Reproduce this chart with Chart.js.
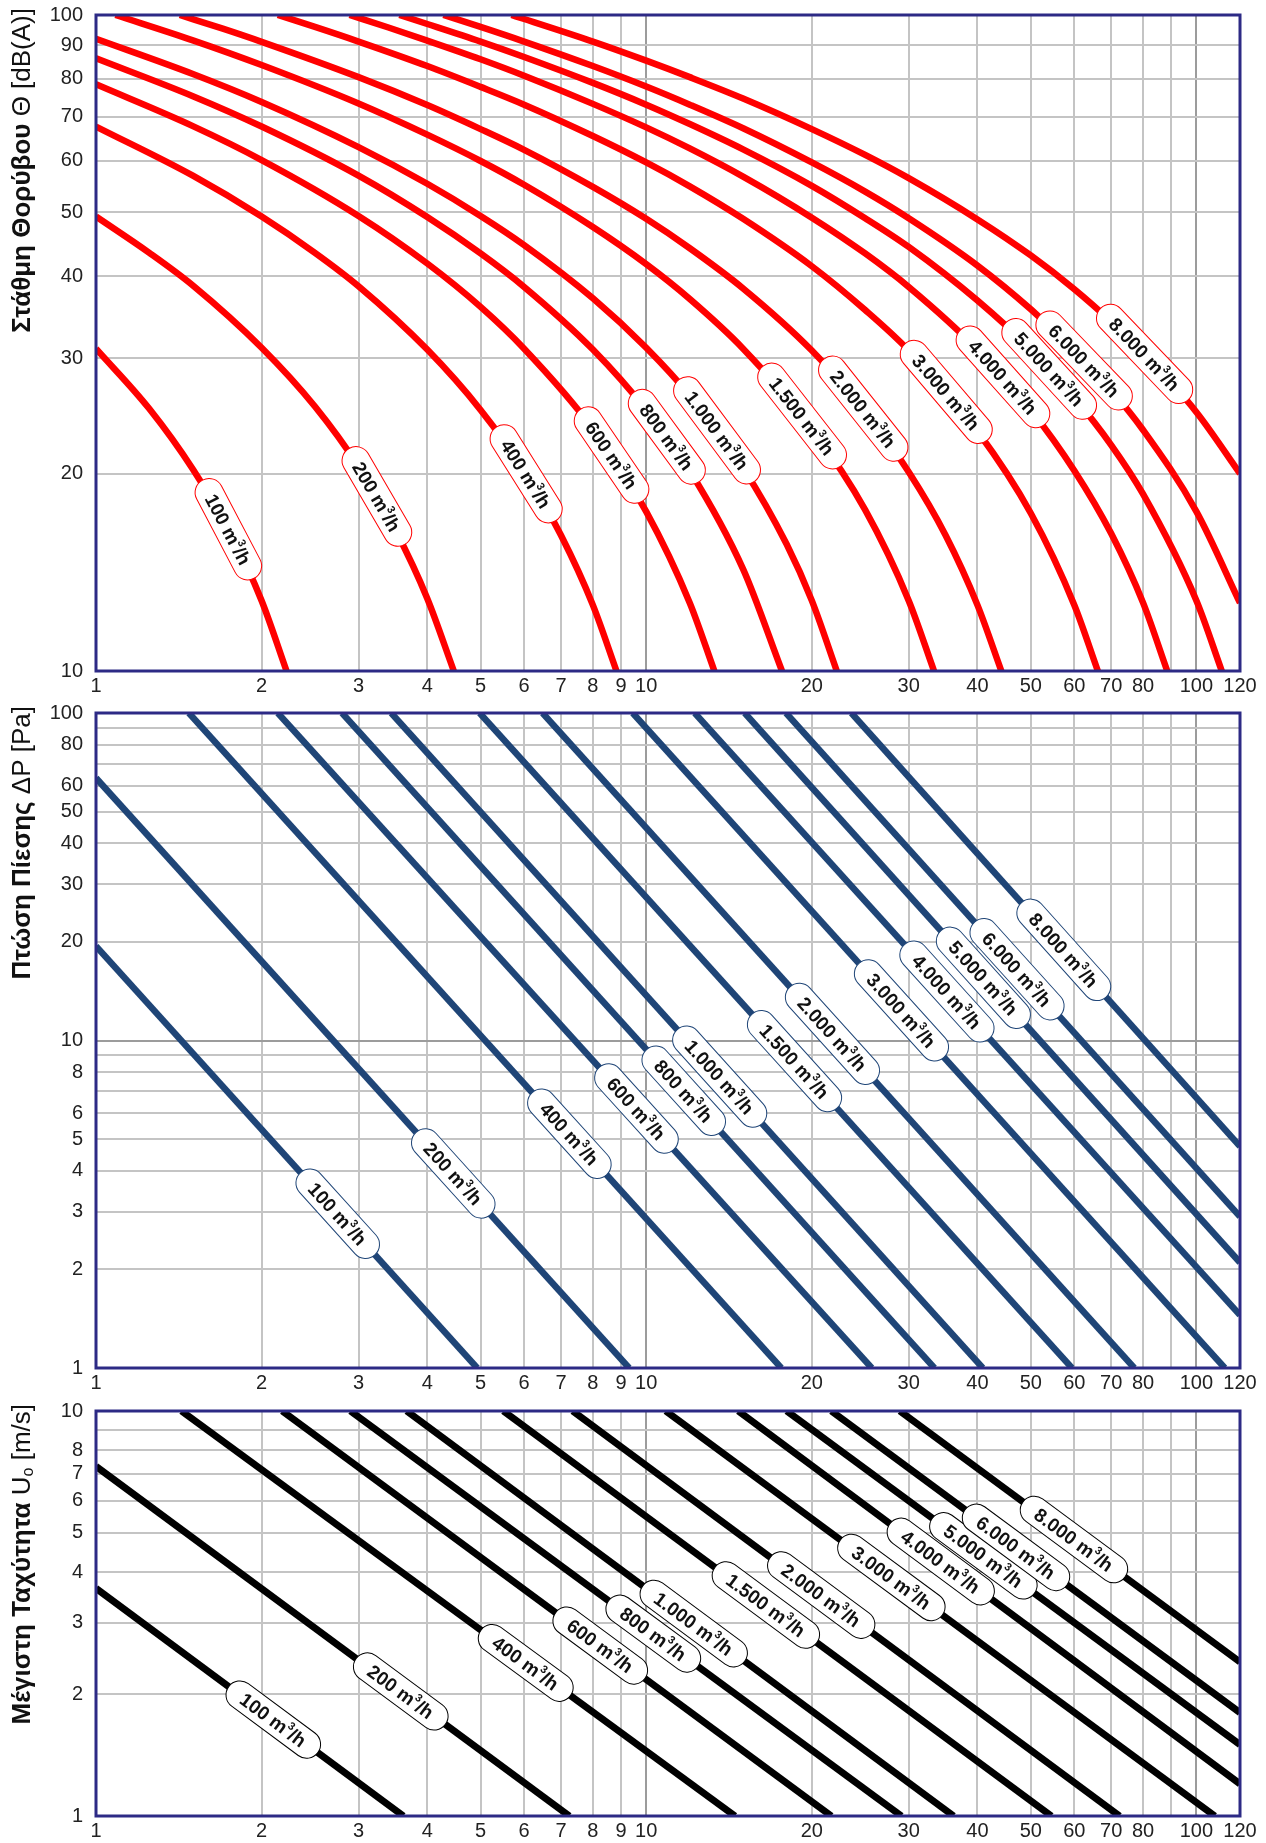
<!DOCTYPE html>
<html>
<head>
<meta charset="utf-8">
<script src="https://cdn.jsdelivr.net/npm/chart.js@4.4.1/dist/chart.umd.min.js"></script>
<style>
  html, body { margin: 0; padding: 0; background: #fff; }
  #page { position: relative; width: 1266px; height: 1843px; }
  .box { position: absolute; left: 0; width: 1266px; }
</style>
</head>
<body>
<div id="page">
  <div class="box" style="top:0;height:698px"><canvas id="noise"></canvas></div>
  <div class="box" style="top:698px;height:698px"><canvas id="pressure"></canvas></div>
  <div class="box" style="top:1396px;height:447px"><canvas id="velocity"></canvas></div>
</div>
<script>
// air flows, m3/h
const flows = ['100', '200', '400', '600', '800', '1.000', '1.500', '2.000', '3.000', '4.000', '5.000', '6.000', '8.000']

// x axis (same for the three charts)
const xTicks = [1, 2, 3, 4, 5, 6, 7, 8, 9, 10, 20, 30, 40, 50, 60, 70, 80, 90, 100, 120]
const xLabels = [1, 2, 3, 4, 5, 6, 7, 8, 9, 10, 20, 30, 40, 50, 60, 70, 80, 100, 120]

const noiseTicks = [10, 20, 30, 40, 50, 60, 70, 80, 90, 100]
const noiseLabels = [10, 20, 30, 40, 50, 60, 70, 80, 90, 100]
const pressureTicks = [1, 2, 3, 4, 5, 6, 7, 8, 9, 10, 20, 30, 40, 50, 60, 70, 80, 90, 100]
const pressureLabels = [1, 2, 3, 4, 5, 6, 8, 10, 20, 30, 40, 50, 60, 80, 100]
const velocityTicks = [1, 2, 3, 4, 5, 6, 7, 8, 9, 10]
const velocityLabels = [1, 2, 3, 4, 5, 6, 7, 8, 10]

// noise level dB(A), [x, dB]
const noise100 = [[1, 31], [1.25, 25.1], [1.5, 20.3], [1.75, 16.3], [2, 12.8], [2.22, 10]]
const noise200 = [[1, 49.3], [1.25, 43.4], [1.5, 38.7], [2, 31.1], [2.5, 25.3], [3, 20.5], [3.5, 16.4], [4, 12.9], [4.47, 10]]
const noise400 = [[1, 67.6], [1.5, 56.9], [2, 49.3], [2.5, 43.4], [3, 38.6], [4, 30.9], [5, 25], [6, 20.2], [7, 16.1], [8, 12.6], [8.83, 10]]
const noise600 = [[1, 78.4], [1.5, 67.7], [2, 60.1], [3, 49.4], [4, 41.8], [5, 35.9], [6, 31], [8, 23.4], [10, 17.5], [12, 12.7], [13.3, 10]]
const noise800 = [[1, 85.9], [1.5, 75.2], [2, 67.6], [3, 56.9], [4, 49.2], [5, 43.3], [6, 38.5], [8, 30.9], [10, 25], [12, 20.2], [15, 14.3], [17.65, 10]]
const noise1000 = [[1, 92], [1.5, 81.3], [2, 73.7], [3, 62.9], [4, 55.3], [5, 49.4], [6, 44.6], [8, 37], [10, 31.1], [12, 26.3], [15, 20.4], [18, 15.6], [20, 12.8], [22.2, 10]]
const noise1500 = [[1.085, 100], [1.5, 91.5], [2, 83.9], [3, 73.3], [4, 65.7], [5, 59.9], [6, 55.1], [8, 47.5], [10, 41.7], [12, 36.9], [15, 31], [20, 23.4], [25, 17.6], [30, 12.8], [33.35, 10]]
const noise2000 = [[1.42, 100], [1.7, 95.3], [2, 91], [3, 80.4], [4, 72.9], [5, 67], [6, 62.3], [8, 54.7], [10, 48.9], [12, 44.1], [15, 38.3], [20, 30.8], [25, 24.9], [30, 20.1], [35, 16.1], [40, 12.6], [44.2, 10]]
const noise3000 = [[2.14, 100], [2.5, 95.9], [3, 91.1], [4, 83.6], [5, 77.7], [6, 73], [8, 65.4], [10, 59.6], [12, 54.8], [15, 48.9], [20, 41.4], [25, 35.5], [30, 30.8], [40, 23.2], [50, 17.4], [60, 12.6], [66.2, 10]]
const noise4000 = [[2.89, 100], [3.4, 95.7], [4, 91.4], [5, 85.6], [6, 80.8], [8, 73.2], [10, 67.4], [12, 62.6], [15, 56.7], [20, 49.1], [25, 43.3], [30, 38.5], [40, 30.9], [50, 25], [60, 20.2], [70, 16.2], [80, 12.7], [88.5, 10]]
const noise5000 = [[3.56, 100], [4, 96.9], [5, 91.1], [6, 86.3], [8, 78.8], [10, 73], [12, 68.2], [15, 62.4], [20, 54.9], [25, 49], [30, 44.3], [40, 36.7], [50, 30.9], [60, 26.1], [70, 22.1], [80, 18.6], [100, 12.8], [111.2, 10]]
const noise6000 = [[4.28, 100], [5, 95.9], [6, 91.1], [8, 83.6], [10, 77.8], [12, 73], [15, 67.2], [20, 59.6], [25, 53.8], [30, 49], [40, 41.5], [50, 35.6], [60, 30.8], [70, 26.8], [80, 23.3], [100, 17.5], [120, 12.7]]
const noise8000 = [[5.69, 100], [6, 98.6], [8, 91.1], [10, 85.2], [12, 80.4], [15, 74.6], [20, 67], [25, 61.2], [30, 56.4], [40, 48.8], [50, 43], [60, 38.2], [70, 34.1], [80, 30.6], [100, 24.8], [120, 20]]
const noiseCurves = [noise100, noise200, noise400, noise600, noise800, noise1000, noise1500,
  noise2000, noise3000, noise4000, noise5000, noise6000, noise8000]

// pressure drop Pa: straight lines, where they enter and leave the frame
const pressureFrom = [[1, 19.4], [1, 63.3], [1.475, 100], [2.14, 100], [2.8, 100], [3.44, 100], [4.98, 100],
  [6.48, 100], [9.45, 100], [12.25, 100], [15.1, 100], [17.95, 100], [23.6, 100]]
const pressureTo = [[4.93, 1], [9.31, 1], [17.6, 1], [25.7, 1], [33.4, 1], [40.9, 1], [59.4, 1],
  [77.1, 1], [112.6, 1], [120, 1.45], [120, 2.1], [120, 2.9], [120, 4.75]]

// max velocity m/s
const velocityFrom = [[1, 3.65], [1, 7.3], [1.43, 10], [2.18, 10], [2.9, 10], [3.67, 10], [5.5, 10],
  [7.35, 10], [10.85, 10], [14.7, 10], [18, 10], [21.7, 10], [28.9, 10]]
const velocityTo = [[3.62, 1], [7.25, 1], [14.5, 1], [21.7, 1], [29.1, 1], [36.2, 1], [54.5, 1],
  [72.5, 1], [108, 1], [120, 1.2], [120, 1.5], [120, 1.8], [120, 2.4]]

// where along x each flow tag sits
const noiseTagX = [1.74, 3.24, 6.05, 8.65, 10.9, 13.45, 19.2, 24.8, 35.1, 44.5, 54, 62.5, 80.5]
const pressureTagX = [2.75, 4.46, 7.25, 9.6, 11.7, 13.6, 18.6, 21.8, 29.1, 35.2, 41, 47.2, 57.4]
const velocityTagX = [2.1, 3.58, 6.04, 8.25, 10.3, 12.2, 16.5, 20.8, 27.9, 34.3, 41, 47, 59.9]

const FONT = '"Liberation Sans", Arial, sans-serif'
Chart.defaults.font.family = FONT

const bez = (p0, p1, p2, p3, t) => {
  const u = 1 - t
  return u * u * u * p0 + 3 * u * u * t * p1 + 3 * u * t * t * p2 + t * t * t * p3
}
const dbez = (p0, p1, p2, p3, t) => {
  const u = 1 - t
  return 3 * u * u * (p1 - p0) + 6 * u * t * (p2 - p1) + 3 * t * t * (p3 - p2)
}

const drawTag = (ctx, x, y, angle, flow, edge) => {
  const big = 'bold 19px ' + FONT
  const small = 'bold 11px ' + FONT
  ctx.save()
  ctx.translate(x, y)
  ctx.rotate(angle)
  ctx.font = big
  const head = flow + ' m'
  const w1 = ctx.measureText(head).width
  const w3 = ctx.measureText('/h').width
  ctx.font = small
  const w2 = ctx.measureText('3').width
  const tw = w1 + w2 + w3
  const len = tw + 34
  const r = 14
  ctx.beginPath()
  ctx.moveTo(-len / 2 + r, -r)
  ctx.lineTo(len / 2 - r, -r)
  ctx.arc(len / 2 - r, 0, r, -Math.PI / 2, Math.PI / 2)
  ctx.lineTo(-len / 2 + r, r)
  ctx.arc(-len / 2 + r, 0, r, Math.PI / 2, Math.PI * 1.5)
  ctx.closePath()
  ctx.fillStyle = '#fff'
  ctx.fill()
  ctx.lineWidth = 1
  ctx.strokeStyle = edge
  ctx.stroke()
  ctx.fillStyle = '#111'
  ctx.textAlign = 'left'
  ctx.textBaseline = 'alphabetic'
  let cx = -tw / 2
  ctx.font = big
  ctx.fillText(head, cx, 7)
  cx += w1
  ctx.font = small
  ctx.fillText('3', cx, -2)
  cx += w2
  ctx.font = big
  ctx.fillText('/h', cx, 7)
  ctx.restore()
}

const tags = {
  id: 'tags',
  afterDatasetsDraw(chart, args, o) {
    const ctx = chart.ctx
    const xs = chart.scales.x
    chart.data.datasets.forEach((ds, i) => {
      const pts = chart.getDatasetMeta(i).data
      const px = xs.getPixelForValue(o.at[i])
      let k = pts.findIndex(p => p.x >= px)
      if (k < 1) k = 1
      const a = pts[k - 1]
      const b = pts[k]
      const c1x = a.cp2x !== undefined ? a.cp2x : a.x + (b.x - a.x) / 3
      const c1y = a.cp2y !== undefined ? a.cp2y : a.y + (b.y - a.y) / 3
      const c2x = b.cp1x !== undefined ? b.cp1x : a.x + 2 * (b.x - a.x) / 3
      const c2y = b.cp1y !== undefined ? b.cp1y : a.y + 2 * (b.y - a.y) / 3
      let lo = 0
      let hi = 1
      for (let n = 0; n < 40; n++) {
        const t = (lo + hi) / 2
        if (bez(a.x, c1x, c2x, b.x, t) < px) lo = t
        else hi = t
      }
      const t = (lo + hi) / 2
      const py = bez(a.y, c1y, c2y, b.y, t)
      const ang = Math.atan2(dbez(a.y, c1y, c2y, b.y, t), dbez(a.x, c1x, c2x, b.x, t))
      drawTag(ctx, px, py, ang, flows[i], o.edge)
    })
  }
}

const yTitle = {
  id: 'yTitle',
  afterDraw(chart, args, o) {
    const { ctx, chartArea } = chart
    const fontOf = p => (p.bold ? 'bold ' : '') + (p.sub ? 16 : 26) + 'px ' + FONT
    ctx.save()
    let total = 0
    const parts = o.parts.map(p => {
      ctx.font = fontOf(p)
      const w = ctx.measureText(p.text).width
      total += w
      return { ...p, w }
    })
    ctx.translate(30, chartArea.top - 7 + total)
    ctx.rotate(-Math.PI / 2)
    ctx.fillStyle = '#111'
    ctx.textBaseline = 'alphabetic'
    let x = 0
    parts.forEach(p => {
      ctx.font = fontOf(p)
      ctx.fillText(p.text, x, p.sub ? 3 : 0)
      x += p.w
    })
    ctx.restore()
  }
}

const frame = {
  id: 'frame',
  afterDraw(chart) {
    const { ctx, chartArea: a } = chart
    ctx.save()
    ctx.strokeStyle = '#2d2a85'
    ctx.lineWidth = 3
    ctx.strokeRect(a.left, a.top, a.right - a.left, a.bottom - a.top)
    ctx.restore()
  }
}

const isDecade = v => v && Math.abs(Math.log10(v) - Math.round(Math.log10(v))) < 1e-9

const axis = (min, max, values, labels, fit, pad) => ({
  type: 'logarithmic',
  min,
  max,
  afterBuildTicks: s => { s.ticks = values.map(v => ({ value: v })) },
  afterFit: fit,
  ticks: {
    autoSkip: false,
    maxRotation: 0,
    minRotation: 0,
    padding: pad,
    color: '#222',
    font: { size: 20 },
    callback: v => (labels.includes(v) ? String(v) : '')
  },
  grid: {
    drawTicks: false,
    lineWidth: 2,
    color: c => (c.tick && isDecade(c.tick.value) ? '#9c9c9c' : '#c4c4c4')
  },
  border: { display: false }
})

// y axis keeps a fixed width and no extra padding so the frames line up
const fitY = s => {
  s.width = 96
  s.paddingTop = 0
  s.paddingBottom = 0
}

const makeChart = (id, datasets, yAxis, xHeight, tagX, edge, title) =>
  new Chart(document.getElementById(id), {
    type: 'scatter',
    data: { datasets },
    options: {
      responsive: true,
      maintainAspectRatio: false,
      animation: false,
      layout: { padding: { top: 15, right: 26, bottom: 0, left: 0 } },
      plugins: {
        legend: { display: false },
        tooltip: { enabled: false },
        tags: { at: tagX, edge },
        yTitle: { parts: title }
      },
      scales: {
        x: axis(1, 120, xTicks, xLabels, s => { s.height = xHeight }, 3),
        y: yAxis
      }
    },
    plugins: [tags, yTitle, frame]
  })

const lineSet = (points, color, width, curved) => ({
  data: points.map(([x, y]) => ({ x, y })),
  borderColor: color,
  borderWidth: width,
  pointRadius: 0,
  showLine: true,
  clip: 0,
  cubicInterpolationMode: curved ? 'monotone' : 'default'
})

makeChart('noise',
  noiseCurves.map(c => lineSet(c, '#ff0000', 6.5, true)),
  axis(10, 100, noiseTicks, noiseLabels, fitY, 13),
  27, noiseTagX, '#ff0000',
  [{ text: 'Στάθμη Θορύβου ', bold: true }, { text: 'Θ [dB(A)]' }])

makeChart('pressure',
  pressureFrom.map((p, i) => lineSet([p, pressureTo[i]], '#1f4577', 6.5, false)),
  axis(1, 100, pressureTicks, pressureLabels, fitY, 13),
  28, pressureTagX, '#1f4577',
  [{ text: 'Πτώση Πίεσης ', bold: true }, { text: 'ΔP [Pa]' }])

makeChart('velocity',
  velocityFrom.map((p, i) => lineSet([p, velocityTo[i]], '#000000', 7, false)),
  axis(1, 10, velocityTicks, velocityLabels, fitY, 13),
  27, velocityTagX, '#000000',
  [{ text: 'Μέγιστη Ταχύτητα ', bold: true }, { text: 'U' }, { text: 'o', sub: true }, { text: ' [m/s]' }])
</script>
</body>
</html>
